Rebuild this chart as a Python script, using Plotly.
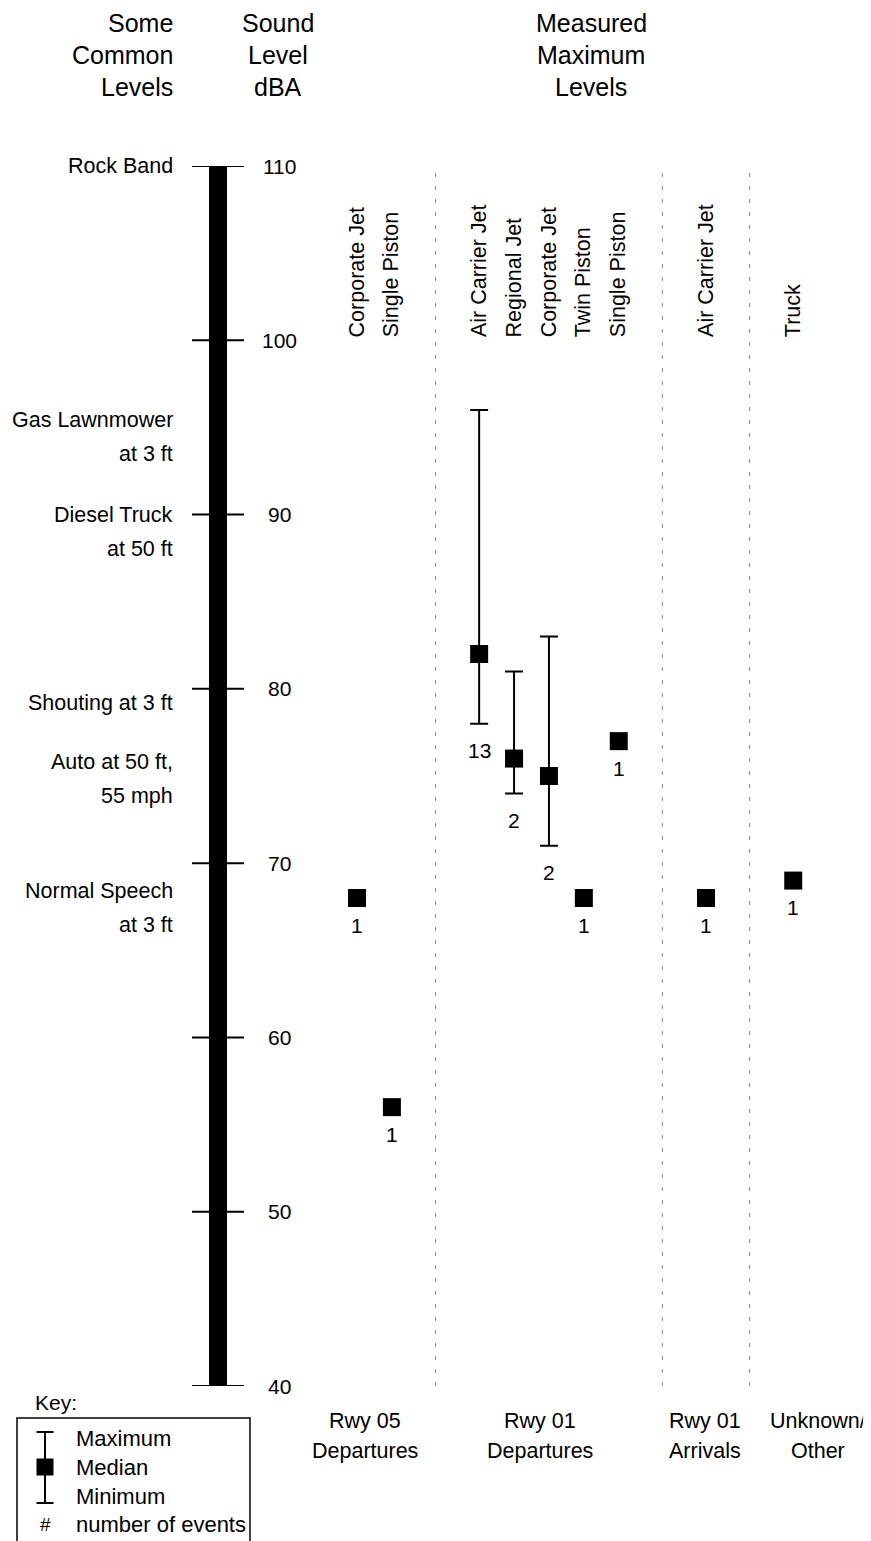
import plotly.graph_objects as go

FONT = "Liberation Sans, Arial, Helvetica, sans-serif"

# ---------------- data ----------------
categories = ["Corporate Jet", "Single Piston",
              "Air Carrier Jet", "Regional Jet", "Corporate Jet", "Twin Piston", "Single Piston",
              "Air Carrier Jet",
              "Truck"]
group_index = [0, 0, 1, 1, 1, 1, 1, 2, 3]
median_dba = [68, 56, 82, 76, 75, 68, 77, 68, 69]
max_dba = [None, None, 96, 81, 83, None, None, None, None]
min_dba = [None, None, 78, 74, 71, None, None, None, None]
event_counts = [1, 1, 13, 2, 2, 1, 1, 1, 1]

group_labels = [["Rwy 05", "Departures"], ["Rwy 01", "Departures"],
                ["Rwy 01", "Arrivals"], ["Unknown/", "Other"]]

scale_ticks = [40, 50, 60, 70, 80, 90, 100, 110]
common_level_labels = [["Rock Band"], ["Gas Lawnmower", "at 3 ft"], ["Diesel Truck", "at 50 ft"],
                       ["Shouting at 3 ft"], ["Auto at 50 ft,", "55 mph"], ["Normal Speech", "at 3 ft"]]
common_level_dba = [110.0, 95.4, 90.0, 79.2, 75.8, 68.4]

# ---------------- layout helpers ----------------
# page body has an 8px margin: the figure starts at (8, 8) in the window
OFF = 8
WIN_W, WIN_H = 871, 1541
W, H = WIN_W - OFF, WIN_H - OFF
Y_TOP_PX, Y_BOT_PX = 166, 1386          # window px of 110 dBA and 40 dBA
TOP = Y_TOP_PX - OFF
BOT = H - (Y_BOT_PX - OFF)
PLOT_H = Y_BOT_PX - Y_TOP_PX
X0_PX, SLOT_PX = 357.0, 34.9
GROUP_GAP = 1.5


def px2x(px):
    return (px - X0_PX) / SLOT_PX


def px2paper(px):
    return (px - OFF) / W


def py2paper(py):
    return (Y_BOT_PX - py) / PLOT_H


x_pos = [i + GROUP_GAP * g for i, g in enumerate(group_index)]
separators = []
for g in range(max(group_index)):
    last = max(x for x, gi in zip(x_pos, group_index) if gi == g)
    first = min(x for x, gi in zip(x_pos, group_index) if gi == g + 1)
    separators.append((last + first) / 2)
group_label_x = [px2x(365), px2x(540), px2x(705), px2x(818)]

fig = go.Figure()

rx, ry, rp, rm = [], [], [], []
sx, sy = [], []
for x, med, mx, mn in zip(x_pos, median_dba, max_dba, min_dba):
    if mx is not None:
        rx.append(x); ry.append(med); rp.append(mx - med); rm.append(med - mn)
    else:
        sx.append(x); sy.append(med)

fig.add_trace(go.Scatter(
    x=rx, y=ry, mode="markers",
    marker=dict(symbol="square", size=18, color="black", line=dict(width=0)),
    error_y=dict(type="data", symmetric=False, array=rp, arrayminus=rm,
                 thickness=2, width=9, color="black"),
    cliponaxis=False, showlegend=False, hoverinfo="skip"))
fig.add_trace(go.Scatter(
    x=sx, y=sy, mode="markers",
    marker=dict(symbol="square", size=18, color="black", line=dict(width=0)),
    cliponaxis=False, showlegend=False, hoverinfo="skip"))

shapes = []
annotations = []
LBL = 21.5

# sound-level scale bar
shapes.append(dict(type="rect", xref="x", yref="y", x0=px2x(209), x1=px2x(227),
                   y0=min(scale_ticks), y1=max(scale_ticks),
                   fillcolor="black", line=dict(width=0), layer="above"))
for t in scale_ticks:
    shapes.append(dict(type="line", xref="x", yref="y", x0=px2x(192), x1=px2x(244),
                       y0=t, y1=t, line=dict(color="black", width=2), layer="above"))
    annotations.append(dict(xref="x", yref="y", x=px2x(279), y=t, text=str(t),
                            showarrow=False, xanchor="center", yanchor="middle",
                            font=dict(size=21, color="black", family=FONT)))

# group separators
for s in separators:
    shapes.append(dict(type="line", xref="x", yref="y", x0=s, x1=s,
                       y0=min(scale_ticks), y1=max(scale_ticks),
                       line=dict(color="#8a8a8a", width=1, dash="4px,9px")))

# common levels
for lines, db in zip(common_level_labels, common_level_dba):
    for k, line in enumerate(lines):
        annotations.append(dict(xref="x", yref="y", x=px2x(175), y=db, yshift=-34 * k,
                                text=line, showarrow=False, xanchor="right", yanchor="middle",
                                font=dict(size=LBL, color="black", family=FONT)))

# column labels (rotated)
for x, cat in zip(x_pos, categories):
    annotations.append(dict(xref="x", yref="y", x=x, y=100.05, text=cat, textangle=-90,
                            showarrow=False, xanchor="center", yanchor="bottom",
                            font=dict(size=LBL, color="black", family=FONT)))

# event counts
for x, med, mn, n in zip(x_pos, median_dba, min_dba, event_counts):
    low = mn if mn is not None else med
    annotations.append(dict(xref="x", yref="y", x=x, y=low, yshift=-27, text=str(n),
                            showarrow=False, xanchor="center", yanchor="middle",
                            font=dict(size=21, color="black", family=FONT)))

# group labels at bottom
for gx, lines in zip(group_label_x, group_labels):
    for k, line in enumerate(lines):
        annotations.append(dict(xref="x", yref="paper", x=gx, y=py2paper(1421 + 30 * k),
                                text=line, showarrow=False, xanchor="center", yanchor="middle",
                                font=dict(size=LBL, color="black", family=FONT)))

# headers
headers = [(["Some", "Common", "Levels"], 175, "right"),
           (["Sound", "Level", "dBA"], 278, "center"),
           (["Measured", "Maximum", "Levels"], 591, "center")]
for lines, px, anchor in headers:
    for k, line in enumerate(lines):
        annotations.append(dict(xref="paper", yref="paper", x=px2paper(px), y=py2paper(23 + 32 * k),
                                text=line, showarrow=False, xanchor=anchor, yanchor="middle",
                                font=dict(size=25, color="black", family=FONT)))

# key
shapes.append(dict(type="rect", xref="paper", yref="paper", x0=px2paper(17), x1=px2paper(250),
                   y0=py2paper(1418), y1=py2paper(1560),
                   line=dict(color="black", width=1.5), fillcolor="rgba(0,0,0,0)"))
shapes.append(dict(type="line", xref="paper", yref="paper", x0=px2paper(45), x1=px2paper(45),
                   y0=py2paper(1432), y1=py2paper(1503), line=dict(color="black", width=2)))
for cy in (1432, 1503):
    shapes.append(dict(type="line", xref="paper", yref="paper", x0=px2paper(36.5), x1=px2paper(53.5),
                       y0=py2paper(cy), y1=py2paper(cy), line=dict(color="black", width=2)))
shapes.append(dict(type="rect", xref="paper", yref="paper", x0=px2paper(36.5), x1=px2paper(53.5),
                   y0=py2paper(1475.5), y1=py2paper(1458.5), fillcolor="black",
                   line=dict(width=0)))
annotations.append(dict(xref="paper", yref="paper", x=px2paper(33), y=py2paper(1402), text="Key:",
                        showarrow=False, xanchor="left", yanchor="middle",
                        font=dict(size=21, color="black", family=FONT)))
for txt, cy in [("Maximum", 1438), ("Median", 1467), ("Minimum", 1496), ("number of events", 1524)]:
    annotations.append(dict(xref="paper", yref="paper", x=px2paper(74), y=py2paper(cy), text=txt,
                            showarrow=False, xanchor="left", yanchor="middle",
                            font=dict(size=22, color="black", family=FONT)))
annotations.append(dict(xref="paper", yref="paper", x=px2paper(45), y=py2paper(1524), text="#",
                        showarrow=False, xanchor="center", yanchor="middle",
                        font=dict(size=19, color="black", family=FONT)))

fig.update_layout(
    width=W, height=H,
    margin=dict(l=0, r=0, t=TOP, b=BOT, autoexpand=False),
    paper_bgcolor="white", plot_bgcolor="white",
    xaxis=dict(range=[px2x(OFF), px2x(WIN_W)], visible=False, fixedrange=True),
    yaxis=dict(range=[min(scale_ticks), max(scale_ticks)], visible=False, fixedrange=True),
    shapes=shapes, annotations=annotations,
    font=dict(family=FONT, color="black"),
    showlegend=False,
)

fig.write_html("out.html")
